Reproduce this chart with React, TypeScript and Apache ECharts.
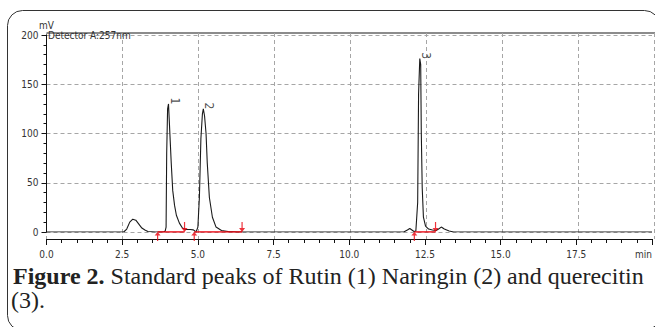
import React, { useEffect, useRef } from "react";
import * as echarts from "echarts";

// Chromatogram trace (time in min, signal in mV)
const traceTime = [
  0, 1.5, 2.55, 2.65, 2.75, 2.85, 2.95, 3.05, 3.15, 3.25, 3.35, 3.6, 3.88,
  3.92, 3.95, 3.97, 4.0, 4.03, 4.06, 4.09, 4.12, 4.17, 4.23, 4.29, 4.39, 4.49,
  4.6, 4.75, 4.85, 4.9, 4.95, 5.0, 5.05, 5.1, 5.15, 5.18, 5.22, 5.27, 5.31,
  5.38, 5.48, 5.6, 5.78, 6.0, 6.3, 11.8, 11.92, 12.0, 12.07, 12.14, 12.2,
  12.26, 12.29, 12.33, 12.36, 12.38, 12.41, 12.45, 12.52, 12.62, 12.75, 12.87,
  12.95, 13.04, 13.14, 13.3, 13.45, 20,
];
const traceSignal = [
  0, 0, 0, 3, 10, 13, 12, 8, 4, 2, 0.5, 0, 0.3,
  1, 5, 80, 125, 130, 110, 90, 70, 42, 27, 17, 9, 4,
  2.5, 2.5, 2.2, 1, 0.8, 5, 35, 95, 120, 125, 118, 100, 70,
  35, 15, 5, 1.5, 0.5, 0, 0, 2, 3.5, 2, 0.5, 1,
  30, 140, 176, 170, 100, 45, 15, 6, 3, 2, 1.5,
  3, 5, 3, 1, 0, 0,
];

// Peak annotations
const peakTimes = [4.03, 5.18, 12.33];
const peakHeights = [130, 125, 176];
const peakNames = ["1", "2", "3"];

// Integration baselines (start / end, min)
const integStart = [3.67, 4.88, 12.15];
const integEnd = [4.56, 6.46, 12.85];

// Axes
const xMin = 0;
const xMax = 20;
const xInterval = 2.5;
const yMin = 0;
const yMax = 200;
const yInterval = 50;

const captionBold = "Figure 2.";
const captionLine1 = " Standard peaks of Rutin (1) Naringin (2) and querecitin";
const captionLine2 = "(3).";
const detectorText = "Detector A:257nm";

const AXIS_FONT = "'Liberation Sans Narrow', 'DejaVu Sans Condensed', 'Liberation Sans', sans-serif";
const SERIF = "'Liberation Serif', 'DejaVu Serif', serif";
const GRID_LINE = { color: "#a6a6a6", type: [4, 3] as number[], width: 1 };

export default function App() {
  const ref = useRef<HTMLDivElement>(null);

  useEffect(() => {
    if (!ref.current) return;
    document.body.style.margin = "0";
    const chart = echarts.init(ref.current, undefined, { renderer: "svg" });

    const arrowUp = "path://M0,0 L3,4 L0.6,4 L0.6,10 L-0.6,10 L-0.6,4 L-3,4 Z";

    const series: any[] = [
      {
        type: "line",
        data: traceTime.map((t, i) => [t, traceSignal[i]]),
        showSymbol: false,
        lineStyle: { color: "#1a1a1a", width: 1.1 },
        z: 3,
      },
      ...integStart.map((s, i) => ({
        type: "line",
        data: [
          [s, 0],
          [integEnd[i], 0],
        ],
        showSymbol: false,
        lineStyle: { color: "#e8000b", width: 1.4 },
        z: 4,
      })),
      {
        type: "scatter",
        data: integStart.map((t) => [t, 0]),
        symbol: arrowUp,
        symbolSize: [6, 9],
        symbolOffset: [0, 4.5],
        itemStyle: { color: "#e8000b" },
        z: 5,
      },
      {
        type: "scatter",
        data: integEnd.map((t) => [t, 0]),
        symbol: arrowUp,
        symbolSize: [6, 10],
        symbolRotate: 180,
        symbolOffset: [0, -5],
        itemStyle: { color: "#e8000b" },
        z: 5,
      },
      {
        type: "scatter",
        data: peakTimes.map((t, i) => [t, peakHeights[i], peakNames[i]]),
        symbolSize: 0,
        label: {
          show: true,
          position: "inside",
          offset: [-3, -6],
          rotate: -90,
          formatter: (p: any) => p.value[2],
          fontFamily: AXIS_FONT,
          fontSize: 12,
          color: "#222",
        },
        z: 6,
      },
    ];

    chart.setOption({
      animation: false,
      backgroundColor: "#fff",
      grid: [
        { left: 46.5, right: 1, top: 35, bottom: 95, containLabel: false },
        { left: 46.5, right: 1, top: 33, bottom: 88, containLabel: false },
      ],
      xAxis: [
        {
          type: "value",
          gridIndex: 0,
          min: xMin,
          max: xMax,
          interval: xInterval,
          offset: 7,
          axisLine: { show: true, onZero: false, lineStyle: { color: "#111", width: 1 } },
          axisTick: { show: true, length: 6, lineStyle: { color: "#111" } },
          minorTick: { show: true, splitNumber: 5, length: 4, lineStyle: { color: "#111" } },
          splitLine: { show: false },
          axisLabel: {
            margin: 10,
            fontFamily: AXIS_FONT,
            fontSize: 10,
            color: "#333",
            alignMaxLabel: "right",
            formatter: (v: number) => (v === xMax ? "min" : v.toFixed(1)),
          },
        },
        {
          type: "value",
          gridIndex: 1,
          min: xMin,
          max: xMax,
          interval: xInterval,
          axisLine: { show: false },
          axisTick: { show: false },
          axisLabel: { show: false },
          splitLine: { show: true, lineStyle: GRID_LINE },
        },
      ],
      yAxis: [
        {
          type: "value",
          gridIndex: 0,
          min: yMin,
          max: yMax,
          interval: yInterval,
          name: "mV",
          nameLocation: "end",
          nameGap: 3,
          nameTextStyle: { fontFamily: AXIS_FONT, fontSize: 10, color: "#333", align: "center" },
          axisLine: { show: true, lineStyle: { color: "#111", width: 1 } },
          axisTick: { show: true, length: 5, lineStyle: { color: "#111" } },
          minorTick: { show: true, splitNumber: 5, length: 3, lineStyle: { color: "#111" } },
          splitLine: { show: true, lineStyle: GRID_LINE },
          axisLabel: {
            margin: 8,
            fontFamily: AXIS_FONT,
            fontSize: 10,
            color: "#333",
          },
          z: 3,
        },
        {
          type: "value",
          gridIndex: 1,
          min: 0,
          max: 1,
          show: false,
        },
      ],
      series,
      graphic: [
        {
          type: "rect",
          shape: { x: 7.5, y: 10.5, width: 652, height: 320, r: 15 },
          style: { fill: "none", stroke: "#333", lineWidth: 1 },
          silent: true,
        },
        {
          type: "line",
          shape: { x1: 46.5, y1: 33, x2: 655, y2: 33 },
          style: { stroke: "#666", lineWidth: 1.5 },
          silent: true,
        },
        {
          type: "text",
          x: 48,
          y: 35,
          style: {
            text: detectorText,
            font: `10px ${AXIS_FONT}`,
            fill: "#333",
            verticalAlign: "middle",
          },
          z: 10,
        },
        {
          type: "text",
          x: 13,
          y: 276,
          style: {
            text: `{b|${captionBold}}{r|${captionLine1}}`,
            verticalAlign: "middle",
            rich: {
              b: { fontFamily: SERIF, fontSize: 24, fontWeight: "bold", fill: "#222" },
              r: { fontFamily: SERIF, fontSize: 24, fill: "#222" },
            },
          },
          z: 10,
        },
        {
          type: "text",
          x: 11,
          y: 300,
          style: {
            text: captionLine2,
            font: `24px ${SERIF}`,
            fill: "#222",
            verticalAlign: "middle",
          },
          z: 10,
        },
      ],
    });

    return () => chart.dispose();
  }, []);

  return (
    <div
      ref={ref}
      style={{ position: "fixed", left: 0, top: 0, width: 655, height: 327, background: "#fff" }}
    />
  );
}
